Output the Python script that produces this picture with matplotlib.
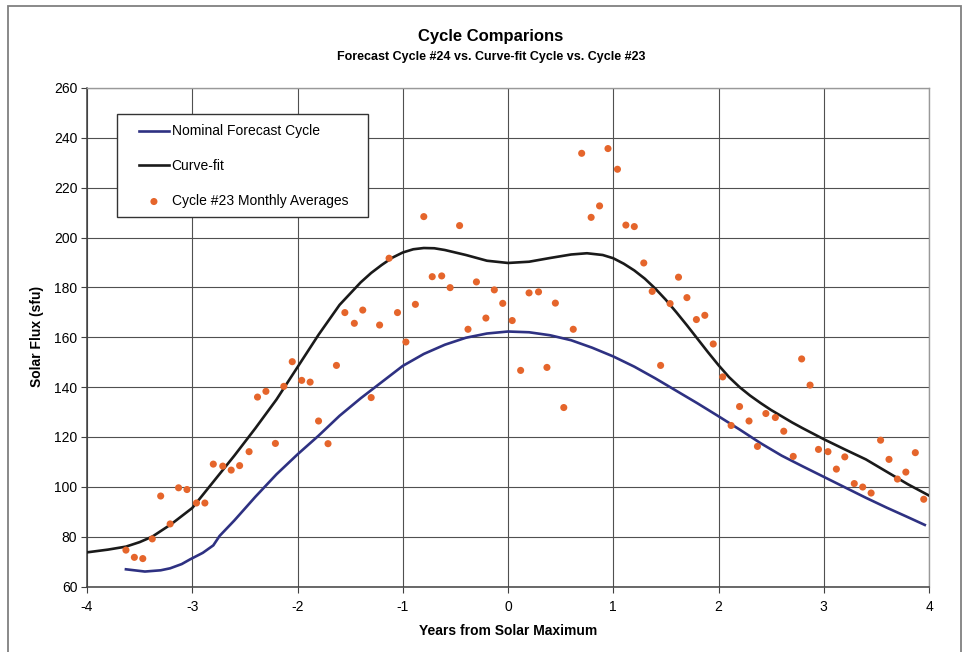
import numpy as np
import matplotlib
matplotlib.use('Agg')
import matplotlib.pyplot as plt
from matplotlib.patches import Rectangle

plt.rcParams['font.family'] = ['Liberation Sans', 'DejaVu Sans']
plt.rcParams['axes.unicode_minus'] = False

# Cycle #23 monthly averages (years from max, sfu)
c23_x = [-3.63, -3.55, -3.47, -3.38, -3.30, -3.21, -3.13, -3.05, -2.96, -2.88,
         -2.80, -2.71, -2.63, -2.55, -2.46, -2.38, -2.30, -2.21, -2.13, -2.05,
         -1.96, -1.88, -1.80, -1.71, -1.63,
         -1.55, -1.46, -1.38, -1.30, -1.22, -1.13, -1.05, -0.97, -0.88, -0.80,
         -0.72, -0.63, -0.55, -0.46, -0.38, -0.30, -0.21, -0.13, -0.05, 0.04,
         0.12, 0.20, 0.29, 0.37, 0.45,
         0.53, 0.62, 0.70, 0.79, 0.87, 0.95, 1.04, 1.12, 1.20, 1.29,
         1.37, 1.45, 1.54, 1.62, 1.70, 1.79, 1.87, 1.95, 2.04,
         2.12, 2.20, 2.29, 2.37, 2.45, 2.54, 2.62, 2.71, 2.79, 2.87,
         2.95, 3.04, 3.12, 3.20, 3.29, 3.37, 3.45, 3.54, 3.62, 3.70,
         3.78, 3.87, 3.95]
c23_y = [74.6, 71.7, 71.2, 79.1, 96.3, 85.1, 99.6, 98.9, 93.5, 93.5,
         109.1, 108.3, 106.7, 108.5, 114.1, 136.0, 138.3, 117.4, 140.3, 150.2,
         142.7, 142.0, 126.4, 117.3, 148.7,
         169.9, 165.6, 170.9, 135.8, 164.9, 191.7, 169.9, 158.1, 173.2, 208.4,
         184.3, 184.6, 179.9, 204.8, 163.2, 182.2, 167.7, 179.0, 173.6, 166.7,
         146.7, 177.8, 178.2, 147.9, 173.7,
         131.8, 163.2, 233.8, 208.1, 212.7, 235.7, 227.4, 205.0, 204.4, 189.8,
         178.4, 148.7, 173.5, 184.1, 175.9, 167.1, 168.8, 157.3, 144.1,
         124.6, 132.2, 126.4, 116.2, 129.4, 127.8, 122.3, 112.2, 151.3, 140.8,
         115.0, 114.1, 107.1, 112.0, 101.3, 99.9, 97.5, 118.7, 111.0, 103.1,
         105.9, 113.7, 95.0]

# curve-fit cycle
fit_x = [-4.0, -3.8, -3.63, -3.5, -3.38, -3.2, -3.0, -2.8, -2.6, -2.4, -2.2,
         -2.0, -1.8, -1.6, -1.4, -1.3, -1.2, -1.1, -1.0, -0.9, -0.8, -0.7,
         -0.6, -0.4, -0.2, 0.0,
         0.2, 0.4, 0.6, 0.75, 0.9, 1.0, 1.1, 1.2, 1.3, 1.4, 1.5, 1.6, 1.7,
         1.8, 1.9, 2.0, 2.1, 2.2, 2.3, 2.4, 2.5, 2.6, 2.7, 2.8, 3.0, 3.2,
         3.4, 3.6, 3.8, 4.0]
fit_y = [73.7, 74.8, 76.0, 77.8, 80.0, 85.0, 91.5, 102.0, 112.5, 123.5, 135.0,
         148.0, 161.0, 173.0, 182.0, 185.8, 189.0, 191.9, 194.0, 195.3, 195.8, 195.7,
         195.0, 193.0, 190.7, 189.8,
         190.3, 191.8, 193.2, 193.7, 193.0, 191.7, 189.5, 186.8, 183.5, 179.5, 175.0, 170.0, 164.8,
         159.4, 154.0, 148.8, 144.0, 140.0, 136.6, 133.6, 130.8, 128.3, 125.8, 123.5, 119.1, 115.0,
         111.0, 106.0, 101.0, 96.5]

# nominal forecast cycle #24
nom_x = [-3.63, -3.45, -3.3, -3.21, -3.1, -3.02, -2.9, -2.8, -2.74, -2.6, -2.4,
         -2.2, -2.0, -1.8, -1.6, -1.4, -1.2, -1.0, -0.8, -0.6, -0.4, -0.2,
         0.0, 0.2, 0.4, 0.6, 0.8, 1.0, 1.2, 1.4, 1.6, 1.8, 2.0, 2.2, 2.4,
         2.6, 2.8, 3.0, 3.2, 3.4, 3.6, 3.8, 3.96]
nom_y = [66.9, 66.0, 66.5, 67.3, 69.0, 70.9, 73.5, 76.5, 80.3, 86.5, 96.0,
         105.0, 113.0, 120.5, 128.5, 135.5, 142.0, 148.5, 153.3, 157.0, 159.8, 161.5,
         162.3, 162.0, 160.8, 158.8, 155.8, 152.3, 148.2, 143.5, 138.5, 133.5, 128.3, 123.0, 117.5,
         112.5, 108.2, 104.0, 99.8, 95.6, 91.6, 87.8, 84.7]

W, H = 964, 652
fig = plt.figure(figsize=(W / 100, H / 100), dpi=100)
ax = fig.add_axes([87 / W, 1 - 586.5 / H, 842 / W, 498.5 / H])

# outer chart border
fig.patches.append(Rectangle((8 / W, -0.05), 953 / W, 1.05 - 6 / H,
                             transform=fig.transFigure, fill=False,
                             edgecolor='#808080', linewidth=1.3))

ax.plot(nom_x, nom_y, color='#2e3182', lw=1.9, label='Nominal Forecast Cycle', zorder=3)
ax.plot(fit_x, fit_y, color='#1a1a1a', lw=1.9, label='Curve-fit', zorder=3)
ax.scatter(c23_x, c23_y, s=26, color='#e5652b', edgecolors='none',
           label='Cycle #23 Monthly Averages', zorder=4)

ax.set_xlim(-4, 4)
ax.set_ylim(60, 260)
ax.set_xticks(range(-4, 5))
ax.set_yticks(range(60, 261, 20))
ax.grid(True, color='#505050', lw=0.8)
ax.set_axisbelow(True)
ax.tick_params(direction='out', length=4, width=0.8, color='#404040',
               labelsize=10, pad=3)
ax.tick_params(axis='x', pad=6)
for s in ['left', 'bottom']:
    ax.spines[s].set_color('#404040')
    ax.spines[s].set_linewidth(1.1)
for s in ['top', 'right']:
    ax.spines[s].set_color('#999999')
    ax.spines[s].set_linewidth(1.0)

fig.text(491 / W, 1 - 37 / H, 'Cycle Comparions', ha='center', va='center',
         fontsize=12, fontweight='bold')
fig.text(491 / W, 1 - 57 / H, 'Forecast Cycle #24 vs. Curve-fit Cycle vs. Cycle #23',
         ha='center', va='center', fontsize=9, fontweight='bold')
fig.text(508 / W, 1 - 631 / H, 'Years from Solar Maximum', ha='center', va='center',
         fontsize=10, fontweight='bold')
fig.text(37 / W, 1 - 336 / H, 'Solar Flux (sfu)', ha='center', va='center',
         rotation=90, fontsize=10, fontweight='bold')

# legend box
ax.add_patch(Rectangle(((117 - 87) / 842, (586.5 - 217.3) / 498.5), 251 / 842, 103.6 / 498.5,
                       transform=ax.transAxes, facecolor='white', edgecolor='#333333',
                       lw=1.0, zorder=5))
leg = ax.legend(loc='upper left', bbox_to_anchor=((139 - 87) / 842, 1 - (124.5 - 88) / 498.5),
                frameon=False, fontsize=10, handlelength=2.15, handletextpad=0.2,
                labelspacing=1.5, borderpad=0, borderaxespad=0, scatterpoints=1,
                markerscale=1.0)
leg.set_zorder(6)

fig.savefig('out.png', dpi=100)
